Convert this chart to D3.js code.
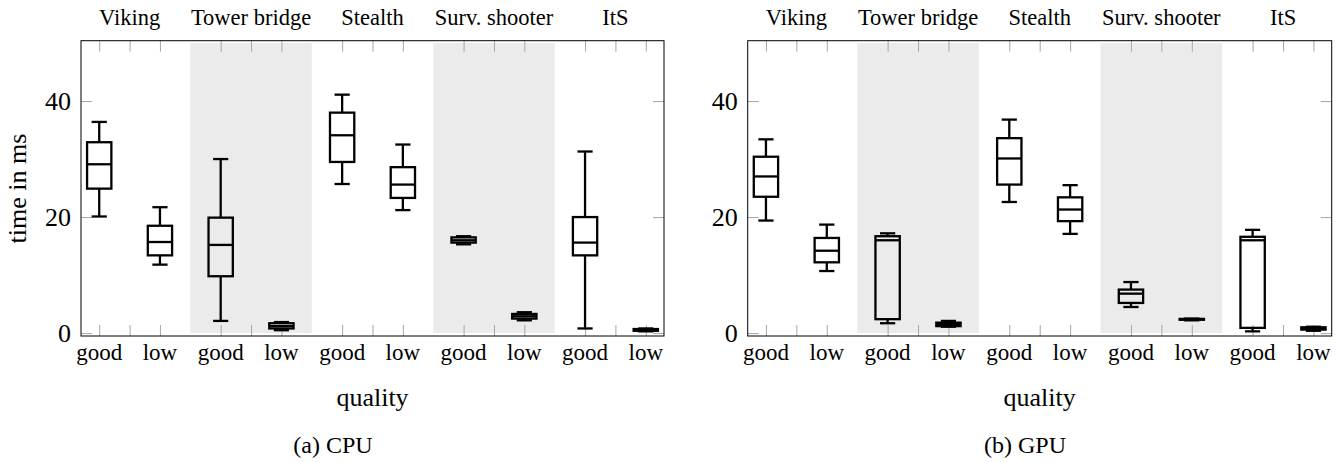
<!DOCTYPE html>
<html>
<head>
<meta charset="utf-8">
<script src="https://cdn.jsdelivr.net/npm/d3@7"></script>
<style>
  html, body { margin: 0; padding: 0; background: #fff; }
  svg { display: block; }
  text { font-family: "Liberation Serif", "Times New Roman", serif; fill: #000; }
</style>
</head>
<body>
<svg id="chart" width="1341" height="462"></svg>
<script>
// ---------------- data ----------------
const groups = ["Viking", "Tower bridge", "Stealth", "Surv. shooter", "ItS"];
const qualities = ["good", "low"];
const yTicks = [0, 20, 40];

// CPU (ms): lower whisker, Q1, median, Q3, upper whisker — order: Viking good, Viking low, Tower good, ...
const cpuMin    = [20.1, 11.8,  2.1, 0.5, 25.7, 21.2, 15.3, 2.2,  0.8, 0.3];
const cpuQ1     = [24.9, 13.4,  9.8, 0.8, 29.5, 23.3, 15.6, 2.5, 13.4, 0.4];
const cpuMedian = [29.1, 15.7, 15.2, 1.2, 34.1, 25.6, 16.0, 2.9, 15.6, 0.55];
const cpuQ3     = [32.9, 18.5, 19.9, 1.7, 38.0, 28.6, 16.5, 3.3, 20.0, 0.7];
const cpuMax    = [36.4, 21.7, 30.0, 1.9, 41.1, 32.5, 16.7, 3.6, 31.3, 0.8];

// GPU (ms)
const gpuMin    = [19.4, 10.7,  1.7, 1.1, 22.6, 17.1, 4.5, 2.2, 0.3, 0.4];
const gpuQ1     = [23.5, 12.2,  2.4, 1.2, 25.6, 19.3, 5.2, 2.3, 0.9, 0.6];
const gpuMedian = [27.0, 14.2, 16.0, 1.55, 30.1, 21.3, 6.8, 2.4, 16.0, 0.8];
const gpuQ3     = [30.4, 16.4, 16.7, 1.8, 33.6, 23.4, 7.5, 2.45, 16.6, 1.0];
const gpuMax    = [33.4, 18.7, 17.2, 2.1, 36.8, 25.5, 8.8, 2.5, 17.8, 1.1];

// ---------------- drawing ----------------
const svg = d3.select("#chart");
svg.append("rect").attr("width", 1341).attr("height", 462).attr("fill", "#fff");

const panels = [
  { left: 81,    right: 664,    caption: "(a) CPU", capX: 333,  yLabel: true,
    mins: cpuMin, q1: cpuQ1, med: cpuMedian, q3: cpuQ3, maxs: cpuMax },
  { left: 747.7, right: 1331.7, caption: "(b) GPU", capX: 1025, yLabel: false,
    mins: gpuMin, q1: gpuQ1, med: gpuMedian, q3: gpuQ3, maxs: gpuMax }
];

const plotTop = 40.7, plotBottom = 336;
const y = d3.scaleLinear().domain([-0.5, 50.4]).range([plotBottom, plotTop]);

panels.forEach(p => {
  const g = svg.append("g");
  const x = d3.scaleLinear().domain([0.7, 10.3]).range([p.left, p.right]);

  // shaded bands for alternating groups
  groups.forEach((name, i) => {
    if (i % 2 === 1) {
      g.append("rect")
        .attr("x", x(2 * i + 0.5)).attr("width", x(2 * i + 2.5) - x(2 * i + 0.5))
        .attr("y", y(50)).attr("height", y(0) - y(50))
        .attr("fill", "#ebebeb");
    }
  });

  // tick positions (each group: good, middle, low)
  const tickPos = [];
  groups.forEach((name, i) => { tickPos.push(2 * i + 1, 2 * i + 1.5, 2 * i + 2); });

  const tickLen = 11;
  const tickColor = "#a6a6a6";
  g.append("g").attr("transform", `translate(0,${plotBottom})`)
    .call(d3.axisTop(x).tickValues(tickPos).tickSize(tickLen).tickFormat(""))
    .call(a => a.select(".domain").remove())
    .call(a => a.selectAll("line").attr("stroke", tickColor));
  g.append("g").attr("transform", `translate(0,${plotTop})`)
    .call(d3.axisBottom(x).tickValues(tickPos).tickSize(tickLen).tickFormat(""))
    .call(a => a.select(".domain").remove())
    .call(a => a.selectAll("line").attr("stroke", tickColor));
  g.append("g").attr("transform", `translate(${p.left},0)`)
    .call(d3.axisRight(y).tickValues(yTicks).tickSize(tickLen).tickFormat(""))
    .call(a => a.select(".domain").remove())
    .call(a => a.selectAll("line").attr("stroke", tickColor));
  g.append("g").attr("transform", `translate(${p.right},0)`)
    .call(d3.axisLeft(y).tickValues(yTicks).tickSize(tickLen).tickFormat(""))
    .call(a => a.select(".domain").remove())
    .call(a => a.selectAll("line").attr("stroke", tickColor));

  g.selectAll("text.ytl").data(yTicks).join("text")
    .attr("class", "ytl")
    .attr("x", p.left - 10).attr("y", d => y(d) + 9)
    .attr("text-anchor", "end").attr("font-size", 26)
    .text(d => d);

  // frame
  g.append("rect")
    .attr("x", p.left).attr("y", plotTop)
    .attr("width", p.right - p.left).attr("height", plotBottom - plotTop)
    .attr("fill", "none").attr("stroke", "#000").attr("stroke-width", 1);

  // boxes
  const bw = x(1.2) - x(1.0);    // half box width
  const cw = x(1.125) - x(1.0);  // half cap width
  const lw = 2.3;
  p.med.forEach((m, i) => {
    const cx = x(i + 1);
    const bg = g.append("g").attr("stroke", "#000").attr("stroke-width", lw).attr("fill", "none");
    bg.append("line").attr("x1", cx).attr("x2", cx).attr("y1", y(p.q3[i])).attr("y2", y(p.maxs[i]));
    bg.append("line").attr("x1", cx).attr("x2", cx).attr("y1", y(p.q1[i])).attr("y2", y(p.mins[i]));
    bg.append("line").attr("x1", cx - cw).attr("x2", cx + cw).attr("y1", y(p.maxs[i])).attr("y2", y(p.maxs[i]));
    bg.append("line").attr("x1", cx - cw).attr("x2", cx + cw).attr("y1", y(p.mins[i])).attr("y2", y(p.mins[i]));
    bg.append("rect").attr("x", cx - bw).attr("width", 2 * bw)
      .attr("y", y(p.q3[i])).attr("height", y(p.q1[i]) - y(p.q3[i]));
    bg.append("line").attr("x1", cx - bw).attr("x2", cx + bw).attr("y1", y(m)).attr("y2", y(m));
  });

  // x tick labels
  const labels = [];
  groups.forEach((name, i) => qualities.forEach((q, j) => labels.push({ pos: 2 * i + 1 + j, q })));
  g.selectAll("text.xtl").data(labels).join("text")
    .attr("class", "xtl")
    .attr("x", d => x(d.pos)).attr("y", 360)
    .attr("text-anchor", "middle").attr("font-size", 23)
    .text(d => d.q);

  // group labels on top
  g.selectAll("text.grp").data(groups).join("text")
    .attr("class", "grp")
    .attr("x", (d, i) => x(2 * i + 1.5)).attr("y", 25)
    .attr("text-anchor", "middle").attr("font-size", 22.5)
    .text(d => d);

  // x axis label
  g.append("text")
    .attr("x", (p.left + p.right) / 2).attr("y", 405.5)
    .attr("text-anchor", "middle").attr("font-size", 26)
    .text("quality");

  if (p.yLabel) {
    g.append("text")
      .attr("transform", "translate(26,188.5) rotate(-90)")
      .attr("text-anchor", "middle").attr("font-size", 26)
      .text("time in ms");
  }

  g.append("text")
    .attr("x", p.capX).attr("y", 452.5)
    .attr("text-anchor", "middle").attr("font-size", 24)
    .text(p.caption);
});
</script>
</body>
</html>
